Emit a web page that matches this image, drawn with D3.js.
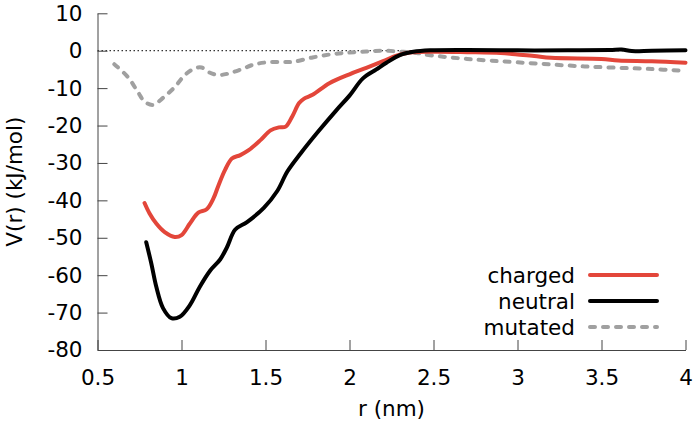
<!DOCTYPE html>
<html>
<head>
<meta charset="utf-8">
<script src="https://cdn.jsdelivr.net/npm/d3@7"></script>
<style>
  body { margin: 0; background: #fff; }
  svg { font-family: "DejaVu Sans", sans-serif; }
</style>
</head>
<body>
<svg id="chart" width="699" height="429"></svg>
<script>
// Values.
var rCharged = [0.78, 0.81, 0.85, 0.90, 0.96, 1.00, 1.05, 1.10, 1.15, 1.19, 1.22, 1.26, 1.30, 1.35, 1.40,
  1.47, 1.53, 1.58, 1.62, 1.66, 1.70, 1.73, 1.78, 1.88, 2.00, 2.10, 2.20, 2.28, 2.36, 2.50, 2.70,
  2.90, 3.00, 3.10, 3.20, 3.50, 3.60, 3.80, 4.00];
var vCharged = [-40.7, -43.5, -46.2, -48.5, -49.8, -49.3, -46.2, -43.3, -42.4, -39.5, -36, -31.8, -28.8, -27.9, -26.6,
  -23.9, -21.3, -20.5, -20.3, -17.5, -14, -12.8, -11.8, -8.7, -6.3, -4.6, -2.8, -1.3, -0.5, -0.3, -0.4,
  -0.6, -1.0, -1.4, -1.9, -2.2, -2.6, -2.8, -3.2];

var rNeutral = [0.79, 0.82, 0.85, 0.89, 0.94, 0.99, 1.05, 1.11, 1.17, 1.23, 1.27, 1.32, 1.39, 1.49, 1.57,
  1.63, 1.71, 1.81, 1.92, 2.00, 2.08, 2.16, 2.22, 2.30, 2.38, 2.48, 2.70, 3.00, 3.30, 3.55, 3.62,
  3.68, 3.80, 4.00];
var vNeutral = [-51.2, -56.8, -63.1, -68.8, -71.5, -71.1, -68, -63, -58.8, -55.8, -52.6, -47.8, -45.8, -42, -37.5,
  -32.3, -27.4, -21.8, -16, -12, -7.4, -5.0, -3.2, -1.2, -0.3, 0.1, 0.2, 0.1, 0.1, 0.2, 0.3,
  -0.1, 0.0, 0.1];

var rMutated = [0.60, 0.68, 0.74, 0.78, 0.83, 0.89, 0.96, 1.02, 1.08, 1.12, 1.17, 1.22, 1.28, 1.36, 1.43,
  1.51, 1.60, 1.66, 1.78, 1.90, 2.00, 2.10, 2.20, 2.32, 2.40, 2.48, 2.70, 3.00, 3.40, 3.80, 4.00];
var vMutated = [-3.6, -7.0, -11, -13.6, -14.5, -12.6, -9.7, -6.5, -4.7, -4.5, -5.9, -6.5, -6.1, -4.9, -3.7,
  -3.1, -3.0, -3.0, -1.8, -0.9, -0.5, -0.2, 0.0, -0.3, -0.6, -1.2, -2.2, -3.1, -4.2, -4.9, -5.4];

var xTicks = [0.5, 1, 1.5, 2, 2.5, 3, 3.5, 4];
var yTicks = [10, 0, -10, -20, -30, -40, -50, -60, -70, -80];
var seriesNames = ['charged', 'neutral', 'mutated'];

// Plot area.
var plotLeft = 97.5, plotRight = 685.5, plotTop = 13.3, plotBottom = 350;
var FONT_SIZE = 21.5;

var svg = d3.select('#chart');

var x = d3.scaleLinear().domain([0.5, 4]).range([plotLeft, plotRight]);
var y = d3.scaleLinear().domain([-80, 10]).range([plotBottom, plotTop]);

// Plain hyphen minus, like the reference.
var plainFormat = function(d) { return String(d); };

// Dotted zero line.
svg.append('line')
  .attr('x1', x(0.5)).attr('x2', x(4))
  .attr('y1', y(0)).attr('y2', y(0))
  .attr('stroke', '#000')
  .attr('stroke-width', 1)
  .attr('stroke-dasharray', '1.5,2.5');

// Axes with inward ticks.
var yAxis = svg.append('g')
  .attr('transform', 'translate(' + plotLeft + ',0)')
  .call(d3.axisLeft(y).tickValues(yTicks).tickFormat(plainFormat)
    .tickSizeInner(-10).tickSizeOuter(0).tickPadding(15));

var xAxis = svg.append('g')
  .attr('transform', 'translate(0,' + plotBottom + ')')
  .call(d3.axisBottom(x).tickValues(xTicks).tickFormat(plainFormat)
    .tickSizeInner(-10).tickSizeOuter(0).tickPadding(20));

[xAxis, yAxis].forEach(function(g) {
  g.selectAll('path, line').attr('stroke', '#444').attr('stroke-width', 1);
  g.selectAll('text').attr('font-size', FONT_SIZE).attr('fill', '#000')
    .attr('font-family', '"DejaVu Sans", sans-serif');
});

// Axis titles.
svg.append('text')
  .attr('transform', 'translate(22,' + ((plotTop + plotBottom) / 2) + ') rotate(-90)')
  .attr('text-anchor', 'middle')
  .attr('font-size', FONT_SIZE)
  .text('V(r) (kJ/mol)');

svg.append('text')
  .attr('x', (plotLeft + plotRight) / 2)
  .attr('y', 416)
  .attr('text-anchor', 'middle')
  .attr('font-size', FONT_SIZE)
  .text('r (nm)');

// Curves.
var line = d3.line()
  .x(function(d) { return x(d[0]); })
  .y(function(d) { return y(d[1]); })
  .curve(d3.curveCatmullRom.alpha(0.5));

var styles = {
  charged: { color: '#e3463a', dash: null },
  neutral: { color: '#000000', dash: null },
  mutated: { color: '#a0a0a0', dash: '5,8' }
};

var series = {
  charged: d3.zip(rCharged, vCharged),
  neutral: d3.zip(rNeutral, vNeutral),
  mutated: d3.zip(rMutated, vMutated)
};

['mutated', 'charged', 'neutral'].forEach(function(name) {
  svg.append('path')
    .datum(series[name])
    .attr('d', line)
    .attr('fill', 'none')
    .attr('stroke', styles[name].color)
    .attr('stroke-width', 4)
    .attr('stroke-linecap', 'round')
    .attr('stroke-linejoin', 'round')
    .attr('stroke-dasharray', styles[name].dash);
});

// Legend.
var legend = svg.append('g');
seriesNames.forEach(function(name, i) {
  var yy = 275 + i * 26;
  legend.append('text')
    .attr('x', 575)
    .attr('y', yy)
    .attr('dy', '0.35em')
    .attr('text-anchor', 'end')
    .attr('font-size', FONT_SIZE)
    .text(name);
  legend.append('line')
    .attr('x1', 590).attr('x2', 657)
    .attr('y1', yy).attr('y2', yy)
    .attr('stroke', styles[name].color)
    .attr('stroke-width', 4)
    .attr('stroke-linecap', 'round')
    .attr('stroke-dasharray', styles[name].dash);
});
</script>
</body>
</html>
